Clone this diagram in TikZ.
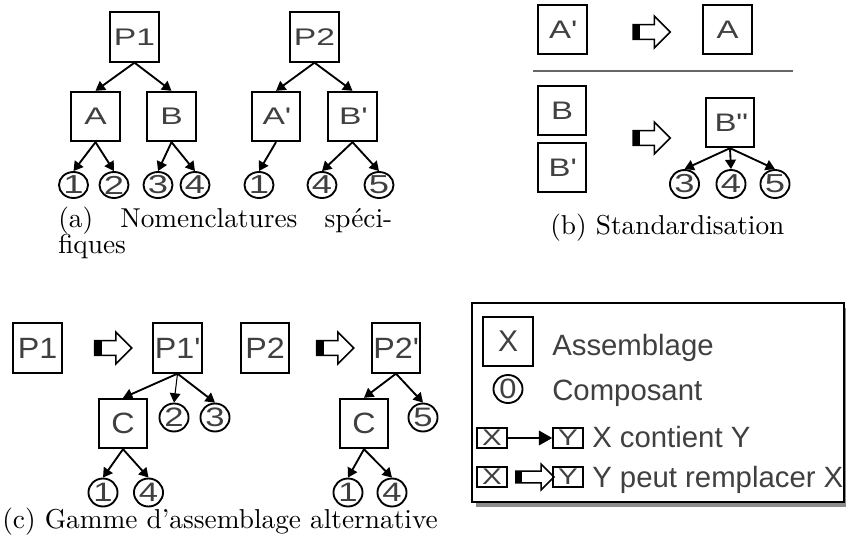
\documentclass[tikz,border=0pt]{standalone}
\usepackage{fontspec}
\usetikzlibrary{arrows.meta,shapes.arrows,shapes.geometric}
\newfontfamily\capfont{lmroman10-regular}[Extension=.otf,Ligatures=TeX]
\newfontfamily\sfwide[FakeStretch=1.4]{Liberation Sans}
\newfontfamily\sfmid[FakeStretch=1.3]{Liberation Sans}
\newfontfamily\sfnarrow[FakeStretch=1.1]{Liberation Sans}
\newfontfamily\sflegend{Liberation Sans}
\definecolor{labelgray}{gray}{0.25}
\tikzset{
  assy/.style={draw,line width=1.5pt,minimum width=36.5pt,minimum height=37pt,inner sep=0pt,text=labelgray},
  comp/.style={ellipse,draw,line width=1.4pt,minimum width=21.8pt,minimum height=21pt,inner sep=0pt,text=labelgray},
  contains/.style={-{Triangle[length=7pt,width=8pt]},line width=1.4pt},
  subst/.style={single arrow,draw,line width=1.2pt,inner xsep=0pt,inner ysep=4.9pt,minimum height=27.75pt,
    minimum width=0pt,single arrow head extend=6.4pt,
    path picture={\fill (path picture bounding box.south west) rectangle
      ([xshift=5.3pt]path picture bounding box.north west);}},
  caption/.style={inner sep=0pt,anchor=base west,font=\capfont\fontsize{20.5}{24}\selectfont},
  legtext/.style={inner sep=0pt,anchor=base west,text=labelgray,font=\sflegend\fontsize{22}{24}\selectfont},
  smallbox/.style={draw,line width=1.2pt,minimum width=22.5pt,minimum height=15pt,inner sep=0pt,
    text=labelgray,font=\sfmid\fontsize{17}{17}\selectfont}
}
\begin{document}
\begin{tikzpicture}[x=0.75pt,y=-0.75pt]
\useasboundingbox (0,0) rectangle (846,547);

% (a)
\begin{scope}[assy/.append style={font=\sfwide\fontsize{18}{18}\selectfont},
  comp/.append style={font=\sfwide\fontsize{19.5}{20}\selectfont,minimum height=19.5pt}]
\node[assy] (p1) at (134.5,37) {P1};
\node[assy] (a) at (95.5,116.5) {A};
\node[assy] (b) at (171.5,116.5) {B};
\node[comp] (a1) at (73.5,185) {1};
\node[comp] (a2) at (114,185) {2};
\node[comp] (b3) at (158,185) {3};
\node[comp] (b4) at (195,185) {4};

\node[assy] (p2) at (314.5,37) {P2};
\node[assy] (ap) at (276,116.5) {A\textquotesingle};
\node[assy] (bp) at (352.5,116.5) {B\textquotesingle};
\node[comp] (ap1) at (259,185) {1};
\node[comp] (bp4) at (322,185) {4};
\node[comp] (bp5) at (379,185) {5};
\end{scope}

\draw[contains] (p1.south) -- (a.north);
\draw[contains] (p1.south) -- (b.north);
\draw[contains] (a.south) -- (a1.north);
\draw[contains] (a.south) -- (a2.north);
\draw[contains] (b.south) -- (b3.north);
\draw[contains] (b.south) -- (b4.north);
\draw[contains] (p2.south) -- (ap.north);
\draw[contains] (p2.south) -- (bp.north);
\draw[contains] (ap.south) -- (ap1.north);
\draw[contains] (bp.south) -- (bp4.north);
\draw[contains] (bp.south) -- (bp5.north);

\node[caption] (capa) at (58,227) {\makebox[250.5pt][s]{(a) Nomenclatures spéci-}};
\node[caption] (capa2) at (58,253) {fiques};

% (b)
\begin{scope}[assy/.append style={font=\sfmid\fontsize{19}{19}\selectfont},
  comp/.append style={font=\sfwide\fontsize{19.5}{20}\selectfont}]
\node[assy] (apb) at (562.5,29.5) {A\textquotesingle};
\node[subst] (s1) at (648,32) {};
\node[assy] (ab) at (727.5,29.5) {A};
\draw[line width=1.1pt,black!60] (533,71) -- (793,71);
\node[assy] (bb) at (562,110.5) {B};
\node[assy] (bpb) at (562,167.5) {B\textquotesingle};
\node[subst] (s2) at (648,138) {};
\node[assy] (bpp) at (730,122.5) {B\textquotedbl};
\node[comp] (c3) at (684.5,184) {3};
\node[comp] (c4) at (731,184) {4};
\node[comp] (c5) at (775,184) {5};
\end{scope}

\draw[contains] (bpp.south) -- (c3.north);
\draw[contains] (bpp.south) -- (c4.north);
\draw[contains] (bpp.south) -- (c5.north);

\node[caption] (capb) at (550,234) {(b) Standardisation};

% (c)
\begin{scope}[assy/.append style={font=\sfnarrow\fontsize{22}{22}\selectfont},
  comp/.append style={font=\sfmid\fontsize{20}{20}\selectfont}]
\node[assy] (p1c) at (37.5,348) {P1};
\node[subst] (s3) at (109.5,348) {};
\node[assy] (p1p) at (177.5,348) {P1\textquotesingle};
\node[assy] (p2c) at (265,348) {P2};
\node[subst] (s4) at (331.5,348) {};
\node[assy] (p2p) at (396,348) {P2\textquotesingle};
\node[assy] (cl) at (123,423.5) {C};
\node[comp] (c2l) at (174,417.5) {2};
\node[comp] (c3l) at (215,417.5) {3};
\node[comp] (c1l) at (103,492.5) {1};
\node[comp] (c4l) at (148.5,492.5) {4};
\node[assy] (cr) at (364,423.5) {C};
\node[comp] (c5r) at (423,417.5) {5};
\node[comp] (c1r) at (348,492.5) {1};
\node[comp] (c4r) at (392,492.5) {4};
\end{scope}

\draw[contains] (p1p.south) -- (cl.north);
\draw[contains,line width=0.8pt] (p1p.south) -- (c2l.north);
\draw[contains] (p1p.south) -- (c3l.north);
\draw[contains] (cl.south) -- (c1l.north);
\draw[contains] (cl.south) -- (c4l.north);
\draw[contains] (p2p.south) -- (cr.north);
\draw[contains] (p2p.south) -- (c5r.north);
\draw[contains] (cr.south) -- (c1r.north);
\draw[contains] (cr.south) -- (c4r.north);

\node[caption] (capc) at (2,528) {(c) Gamme d'assemblage alternative};

% legend
\fill[black!45] (476,308) rectangle (848,507);
\draw[line width=1.5pt,fill=white] (472,303) rectangle (844,502);
\node[assy,minimum width=37.5pt,font=\sflegend\fontsize{22.5}{23}\selectfont] (lx) at (508,341.5) {X};
\node[legtext] (lassy) at (552,355) {Assemblage};
\node[comp,font=\sfnarrow\fontsize{21}{21}\selectfont] (lc) at (508,389) {0};
\node[legtext] (lcomp) at (552,400) {Composant};
\node[smallbox] (lx1) at (492,438) {X};
\node[smallbox] (ly1) at (568,438) {Y};
\draw[line width=1.2pt,-{Triangle[length=10pt,width=11pt]}] (lx1) -- (ly1);
\node[legtext] (lcont) at (592,447) {X contient Y};
\node[smallbox] (lx2) at (492,477) {X};
\node[subst,minimum height=28.5pt,inner ysep=3.8pt,single arrow head extend=5.2pt,
  path picture={\fill (path picture bounding box.south west) rectangle
    ([xshift=4.5pt]path picture bounding box.north west);}] (ls) at (532,477) {};
\node[smallbox] (ly2) at (568,477) {Y};
\node[legtext] (lrepl) at (592,487) {Y peut remplacer X};
\end{tikzpicture}
\end{document}
